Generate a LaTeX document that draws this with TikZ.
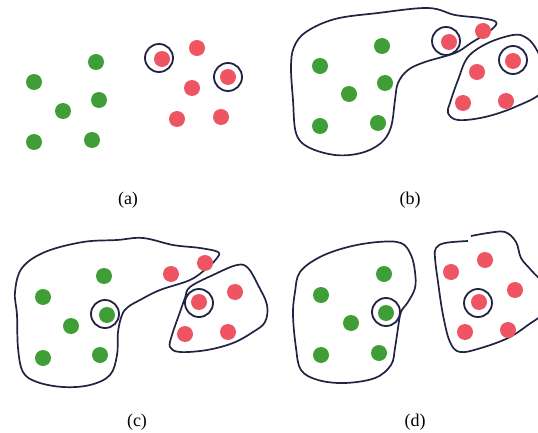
\documentclass[tikz,border=0pt]{standalone}
\usepackage{fontspec}
\setmainfont{Liberation Serif}
\usetikzlibrary{positioning}

\definecolor{dotgreen}{RGB}{64,158,54}
\definecolor{dotred}{RGB}{238,84,98}
\definecolor{inkline}{RGB}{34,34,66}

\begin{document}
\begin{tikzpicture}[
  x=1pt, y=-1pt,
  gdot/.style={circle, fill=dotgreen, minimum size=16pt, inner sep=0pt},
  rdot/.style={circle, fill=dotred, minimum size=16pt, inner sep=0pt},
  ring/.style={circle, draw=inkline, line width=1.8pt, minimum size=28pt, inner sep=0pt},
  blob/.style={draw=inkline, line width=1.7pt, line join=round},
  caption/.style={font=\fontsize{18}{20}\selectfont}
]
\clip (0,0) rectangle (538,433);

% --- outlines of the clusters ---
\draw[blob] plot[smooth cycle, tension=0.6] coordinates {
  (306,32) (335,19) (378,13) (428,8) (455,15) (481,18) (496,22) (491,30)
  (471,43) (455,53) (425,62) (408,70) (398,83) (395,100) (391,127) (381,143)
  (361,153) (335,155) (308,147) (296,133) (293,100) (291,67) (294,47)};
\draw[blob] plot[smooth cycle, tension=0.6] coordinates {
  (468,57) (488,43) (513,35) (525,37) (535,47) (545,70) (542,92) (515,107)
  (485,117) (458,120) (448,113) (450,103) (458,80)};
\draw[blob] plot[smooth cycle, tension=0.6] coordinates {
  (22,268) (45,252) (83,242) (117,240) (143,238) (173,245) (200,248) (218,252)
  (217,258) (207,268) (190,280) (160,290) (140,300) (128,307) (122,315) (118,332)
  (117,355) (110,375) (90,385) (63,387) (37,382) (23,372) (18,348) (17,315) (15,292)};
\draw[blob] plot[smooth cycle, tension=0.6] coordinates {
  (190,287) (213,275) (237,265) (248,268) (258,285) (267,305) (265,322) (253,332)
  (233,343) (207,350) (180,352) (170,347) (172,335) (180,312) (185,298)};
\draw[blob] plot[smooth cycle, tension=0.6] coordinates {
  (300,272) (320,257) (348,247) (378,242) (401,243) (411,255) (415,272) (415,288)
  (408,302) (401,312) (398,328) (395,348) (391,365) (375,378) (345,383) (318,380)
  (301,370) (296,348) (293,315) (295,292)};
\draw[blob] plot[smooth, tension=0.6] coordinates {
  (471,236) (488,233) (505,232) (516,242) (521,258) (531,270) (546,288) (546,310)
  (528,325) (508,338) (481,348) (460,352) (450,342) (443,315) (438,282) (435,258)
  (436,248) (445,243) (468,241)};

% --- (a) ---
\foreach \pos [count=\i] in {(96,62),(34,82),(99,100),(63,111),(34,142),(92,140)}
  \node[gdot] (ag\i) at \pos {};
\foreach \pos [count=\i] in {(162,59),(197,48),(228,77),(192,88),(177,119),(221,117)}
  \node[rdot] (ar\i) at \pos {};
\node[ring] (aring1) at (159,58) {};
\node[ring] (aring2) at (228,77) {};
\node[caption] (capa) at (128,200) {(a)};

% --- (b) ---
\foreach \pos [count=\i] in {(382,46),(320,66),(385,83),(349,94),(320,126),(378,123)}
  \node[gdot] (bg\i) at \pos {};
\foreach \pos [count=\i] in {(449,42),(483,31),(513,61),(477,72),(463,103),(506,101)}
  \node[rdot] (br\i) at \pos {};
\node[ring] (bring1) at (446,41) {};
\node[ring] (bring2) at (513,60) {};
\node[caption] (capb) at (410,200) {(b)};

% --- (c) ---
\foreach \pos [count=\i] in {(104,276),(43,297),(107,315),(71,326),(43,358),(100,355)}
  \node[gdot] (cg\i) at \pos {};
\foreach \pos [count=\i] in {(171,274),(205,263),(235,292),(199,302),(185,334),(228,332)}
  \node[rdot] (cr\i) at \pos {};
\node[ring] (cring1) at (105,314) {};
\node[ring] (cring2) at (199,303) {};
\node[caption] (capc) at (137,422) {(c)};

% --- (d) ---
\foreach \pos [count=\i] in {(384,274),(321,295),(386,313),(351,323),(321,355),(379,353)}
  \node[gdot] (dg\i) at \pos {};
\foreach \pos [count=\i] in {(451,272),(485,260),(515,290),(479,302),(465,332),(508,330)}
  \node[rdot] (dr\i) at \pos {};
\node[ring] (dring1) at (386,312) {};
\node[ring] (dring2) at (478,303) {};
\node[caption] (capd) at (415,422) {(d)};

\end{tikzpicture}
\end{document}
